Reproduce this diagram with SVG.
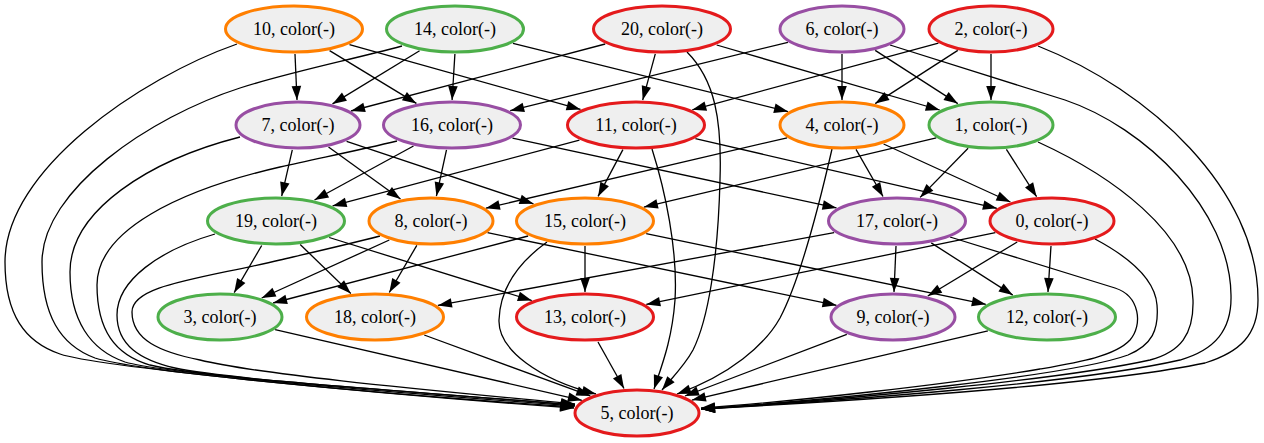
<svg xmlns="http://www.w3.org/2000/svg" width="1264" height="443" viewBox="0 0 1264 443">
<defs>
<marker id="ah" markerWidth="15" markerHeight="11" refX="14" refY="4.8" orient="auto" markerUnits="userSpaceOnUse" overflow="visible">
<path d="M0,0 L14,4.8 L0,9.6 z" fill="#000"/>
</marker>
<style>
.e{fill:none;stroke:#000;stroke-width:1.3;marker-end:url(#ah)}
.n ellipse{fill:#efefef;stroke-width:3}
.n text{font-size:18px;text-anchor:middle;fill:#000}
.o ellipse{stroke:#ff7f00}
.g ellipse{stroke:#4daf4a}
.r ellipse{stroke:#e41a1c}
.p ellipse{stroke:#984ea3}
</style>
</defs>
<rect width="1264" height="443" fill="#fff"/>
<g id="edges">
<path class="e" d="M295,54 L297,100"/>
<path class="e" d="M329.6,50.6 L416.4,103.4"/>
<path class="e" d="M349.5,44.6 L580.5,109.4"/>
<path class="e" d="M419.6,50.7 L332.5,103.9"/>
<path class="e" d="M454.9,54 L452.1,100"/>
<path class="e" d="M513,43.4 L788,111.6"/>
<path class="e" d="M605.2,44 L351,111"/>
<path class="e" d="M655.3,53.9 L642.7,100.1"/>
<path class="e" d="M716.7,45 L939.7,110"/>
<path class="e" d="M787.9,42.3 L510.2,110.7"/>
<path class="e" d="M842,54 L842,100"/>
<path class="e" d="M875.2,50.4 L957.8,103.6"/>
<path class="e" d="M938.4,43.2 L692.3,109.8"/>
<path class="e" d="M957.8,50.4 L875.2,103.6"/>
<path class="e" d="M991,54 L991,100"/>
<path class="e" d="M292.3,149.9 L281.7,196.1"/>
<path class="e" d="M328.5,147 L400.5,199"/>
<path class="e" d="M346.6,141.3 L533.5,203.8"/>
<path class="e" d="M413.5,146 L314.5,200"/>
<path class="e" d="M446.5,149.9 L436.4,196.1"/>
<path class="e" d="M512.5,138.1 L836.5,207.9"/>
<path class="e" d="M579.4,140.1 L332.6,205.9"/>
<path class="e" d="M622.9,149.6 L598.1,196.4"/>
<path class="e" d="M695.4,138.7 L996.9,208.3"/>
<path class="e" d="M787.1,137.8 L485.9,208.2"/>
<path class="e" d="M856,149.4 L883,196.5"/>
<path class="e" d="M883.6,144 L1010.4,202"/>
<path class="e" d="M936.3,137.9 L643.9,207.1"/>
<path class="e" d="M968.1,148.3 L920.1,197.4"/>
<path class="e" d="M1006.4,149.3 L1036.6,196.7"/>
<path class="e" d="M261.7,245.5 L234.2,292.6"/>
<path class="e" d="M300.2,244.5 L350.8,293.5"/>
<path class="e" d="M329.2,237.5 L531.8,300.5"/>
<path class="e" d="M389.3,240 L261.7,298"/>
<path class="e" d="M416.8,245.4 L389.3,292.5"/>
<path class="e" d="M487.5,232.7 L836.5,305.3"/>
<path class="e" d="M528.1,236 L273.1,303"/>
<path class="e" d="M585,246 L585,292"/>
<path class="e" d="M646.2,233.7 L985.8,304.3"/>
<path class="e" d="M834.1,232.6 L437.9,305.4"/>
<path class="e" d="M896,246 L894,292"/>
<path class="e" d="M931.2,242.9 L1012.8,295.1"/>
<path class="e" d="M995.4,232.6 L646.3,304.4"/>
<path class="e" d="M1017.2,242 L927.8,296"/>
<path class="e" d="M1051,246 L1048,292"/>
<path class="e" d="M275.1,329.7 L581.9,400.3"/>
<path class="e" d="M424.2,335 L590.3,395.9"/>
<path class="e" d="M598,342 L624,388.5"/>
<path class="e" d="M846.8,334.3 L685,396"/>
<path class="e" d="M987.9,330.8 L691.9,400.1"/>
<path class="e" d="M237,44 C140,78 5,170 5,262 C5,315 25,342 60,354 C95,366 350,392 574,408"/>
<path class="e" d="M402,46 C350,60 290,72 240,88 C150,117 42,190 42,262 C42,315 60,345 95,358 C140,372 380,394 574,407"/>
<path class="e" d="M240,137 C150,160 70,210 70,272 C70,320 90,350 125,362 C170,375 400,393 575,406"/>
<path class="e" d="M397,141 C360,150 320,158 280,167 C180,190 97,230 97,285 C97,330 115,355 150,365 C200,378 420,392 575,405"/>
<path class="e" d="M215,234 C160,250 117,280 117,315 C117,345 140,360 175,368 C230,380 430,393 575,405"/>
<path class="e" d="M380,236 C345,245 310,253 280,260 C200,279 132,285 132,312 C132,340 160,352 200,360 C260,375 450,392 575,404"/>
<path class="e" d="M547,242 C515,265 500,290 499,320 C498,350 540,380 596,394"/>
<path class="e" d="M652,149 C665,190 678,250 675,300 C672,340 662,365 654,389"/>
<path class="e" d="M687,52 C715,80 722,120 720,180 C718,260 708,320 693,350 C685,365 672,378 662,390"/>
<path class="e" d="M832,149 C818,210 800,280 780,318 C765,345 730,375 677,394"/>
<path class="e" d="M950,237 L1115,288 C1140,296 1143,325 1130,340 C1115,356 1080,362 1040,369 C950,384 800,401 701,408"/>
<path class="e" d="M1095,239 C1125,255 1155,278 1157,305 C1159,330 1152,345 1128,355 C1070,376 850,398 701,409"/>
<path class="e" d="M1038,142 C1110,175 1192,232 1193,300 C1194,335 1180,352 1150,360 C1060,380 850,399 701,409"/>
<path class="e" d="M890,45 L1065,100 C1145,127 1230,210 1231,295 C1232,330 1215,350 1180,360 C1080,383 850,400 701,409"/>
<path class="e" d="M1038,46 C1150,90 1258,190 1258,300 C1258,335 1240,352 1205,363 C1100,385 850,401 701,409"/>
</g>
<g font-family="'Liberation Serif', 'Times New Roman', serif">
<g id="n10" class="n o"><ellipse cx="294" cy="29" rx="68.5" ry="23"/><text x="294" y="35">10, color(-)</text></g>
<g id="n14" class="n g"><ellipse cx="455" cy="29" rx="68.5" ry="23"/><text x="455" y="35">14, color(-)</text></g>
<g id="n20" class="n r"><ellipse cx="662" cy="29" rx="68.5" ry="23"/><text x="662" y="35">20, color(-)</text></g>
<g id="n6" class="n p"><ellipse cx="842" cy="29" rx="62" ry="23"/><text x="842" y="35">6, color(-)</text></g>
<g id="n2" class="n r"><ellipse cx="991" cy="29" rx="62" ry="23"/><text x="991" y="35">2, color(-)</text></g>
<g id="n7" class="n p"><ellipse cx="298" cy="125" rx="62" ry="23"/><text x="298" y="131">7, color(-)</text></g>
<g id="n16" class="n p"><ellipse cx="452" cy="125" rx="68.5" ry="23"/><text x="452" y="131">16, color(-)</text></g>
<g id="n11" class="n r"><ellipse cx="636" cy="125" rx="68.5" ry="23"/><text x="636" y="131">11, color(-)</text></g>
<g id="n4" class="n o"><ellipse cx="842" cy="125" rx="62" ry="23"/><text x="842" y="131">4, color(-)</text></g>
<g id="n1" class="n g"><ellipse cx="991" cy="125" rx="62" ry="23"/><text x="991" y="131">1, color(-)</text></g>
<g id="n19" class="n g"><ellipse cx="276" cy="221" rx="68.5" ry="23"/><text x="276" y="227">19, color(-)</text></g>
<g id="n8" class="n o"><ellipse cx="431" cy="221" rx="62" ry="23"/><text x="431" y="227">8, color(-)</text></g>
<g id="n15" class="n o"><ellipse cx="585" cy="221" rx="68.5" ry="23"/><text x="585" y="227">15, color(-)</text></g>
<g id="n17" class="n p"><ellipse cx="897" cy="221" rx="68.5" ry="23"/><text x="897" y="227">17, color(-)</text></g>
<g id="n0" class="n r"><ellipse cx="1052" cy="221" rx="62" ry="23"/><text x="1052" y="227">0, color(-)</text></g>
<g id="n3" class="n g"><ellipse cx="220" cy="317" rx="62" ry="23"/><text x="220" y="323">3, color(-)</text></g>
<g id="n18" class="n o"><ellipse cx="375" cy="317" rx="68.5" ry="23"/><text x="375" y="323">18, color(-)</text></g>
<g id="n13" class="n r"><ellipse cx="585" cy="317" rx="68.5" ry="23"/><text x="585" y="323">13, color(-)</text></g>
<g id="n9" class="n p"><ellipse cx="893" cy="317" rx="62" ry="23"/><text x="893" y="323">9, color(-)</text></g>
<g id="n12" class="n g"><ellipse cx="1047" cy="317" rx="68.5" ry="23"/><text x="1047" y="323">12, color(-)</text></g>
<g id="n5" class="n r"><ellipse cx="637" cy="413" rx="62" ry="23"/><text x="637" y="419">5, color(-)</text></g>
</g>
</svg>
